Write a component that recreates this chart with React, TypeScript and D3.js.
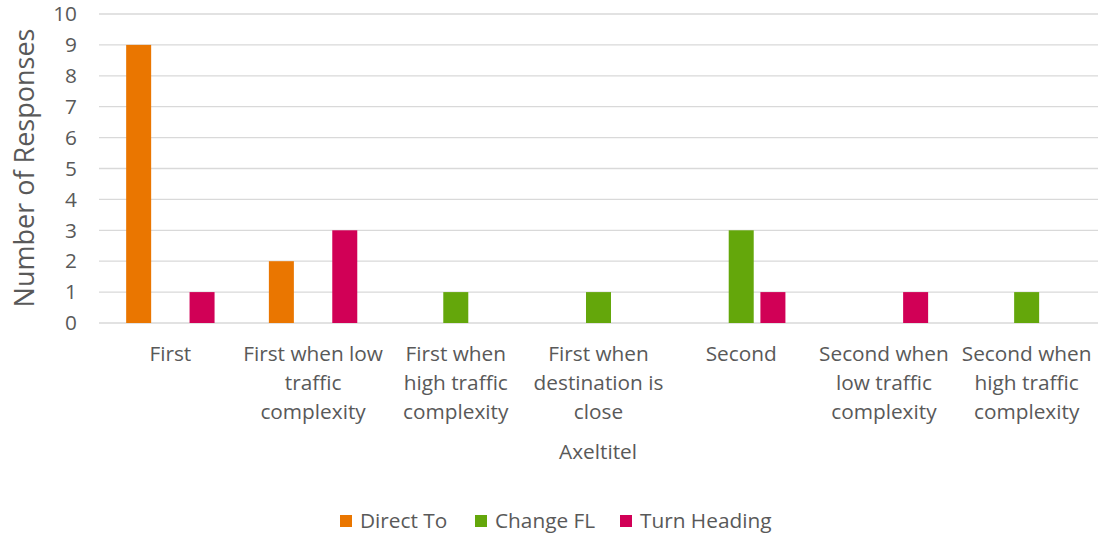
import React from "react";
import * as d3 from "d3";

const categories = [
  ["First"],
  ["First when low", "traffic", "complexity"],
  ["First when", "high traffic", "complexity"],
  ["First when", "destination is", "close"],
  ["Second"],
  ["Second when", "low traffic", "complexity"],
  ["Second when", "high traffic", "complexity"],
];
const seriesNames = ["Direct To", "Change FL", "Turn Heading"];
const directTo = [9, 2, 0, 0, 0, 0, 0];
const changeFL = [0, 0, 1, 1, 3, 0, 1];
const turnHeading = [1, 3, 0, 0, 1, 1, 0];
const colors = ["#EA7600", "#64A70B", "#D10056"];
const yTicks = [0, 1, 2, 3, 4, 5, 6, 7, 8, 9, 10];

const W = 1099;
const H = 535;
const font = "'Open Sans', sans-serif";
const textColor = "#595959";

export default function App() {
  const series = [directTo, changeFL, turnHeading];
  const left = 99, right = 1098, top = 14, bottom = 323;
  const x = d3.scaleBand<number>().domain(d3.range(categories.length)).range([left, right]).padding(0);
  const y = d3.scaleLinear().domain([0, 10]).range([bottom, top]);
  const barW = 25;
  const step = 31.7;
  const legendX = [340, 475, 620];
  const fs = 20.8;
  return (
    <svg width={W} height={H} style={{ position: "absolute", left: 0, top: 0 }} fontFamily={font}>
      <rect width={W} height={H} fill="#fff" />
      {yTicks.map((t) => (
        <g key={t}>
          <line x1={left} x2={right} y1={y(t)} y2={y(t)} stroke="#d9d9d9" strokeWidth={1.3} />
          <text x={77} y={y(t)} dy="0.35em" textAnchor="end" fontSize={fs} fill={textColor}>{t}</text>
        </g>
      ))}
      {series.map((vals, si) =>
        vals.map((v, ci) =>
          v > 0 ? (
            <rect
              key={`${si}-${ci}`}
              x={x(ci)! + x.bandwidth() / 2 + (si - 1) * step - barW / 2}
              y={y(v)}
              width={barW}
              height={y(0) - y(v)}
              fill={colors[si]}
            />
          ) : null
        )
      )}
      {categories.map((lines, ci) => (
        <text key={ci} textAnchor="middle" fontSize={fs} fill={textColor}>
          {lines.map((l, li) => (
            <tspan key={li} x={x(ci)! + x.bandwidth() / 2} y={361 + li * 29}>{l}</tspan>
          ))}
        </text>
      ))}
      <text x={598} y={459} textAnchor="middle" fontSize={fs} fill={textColor}>Axeltitel</text>
      <text transform="translate(34,168) rotate(-90)" textAnchor="middle" fontSize={27} fill={textColor}>Number of Responses</text>
      {seriesNames.map((n, i) => (
        <g key={n}>
          <rect x={legendX[i]} y={515} width={12} height={12} fill={colors[i]} />
          <text x={legendX[i] + 20} y={528} fontSize={fs} fill={textColor}>{n}</text>
        </g>
      ))}
    </svg>
  );
}
